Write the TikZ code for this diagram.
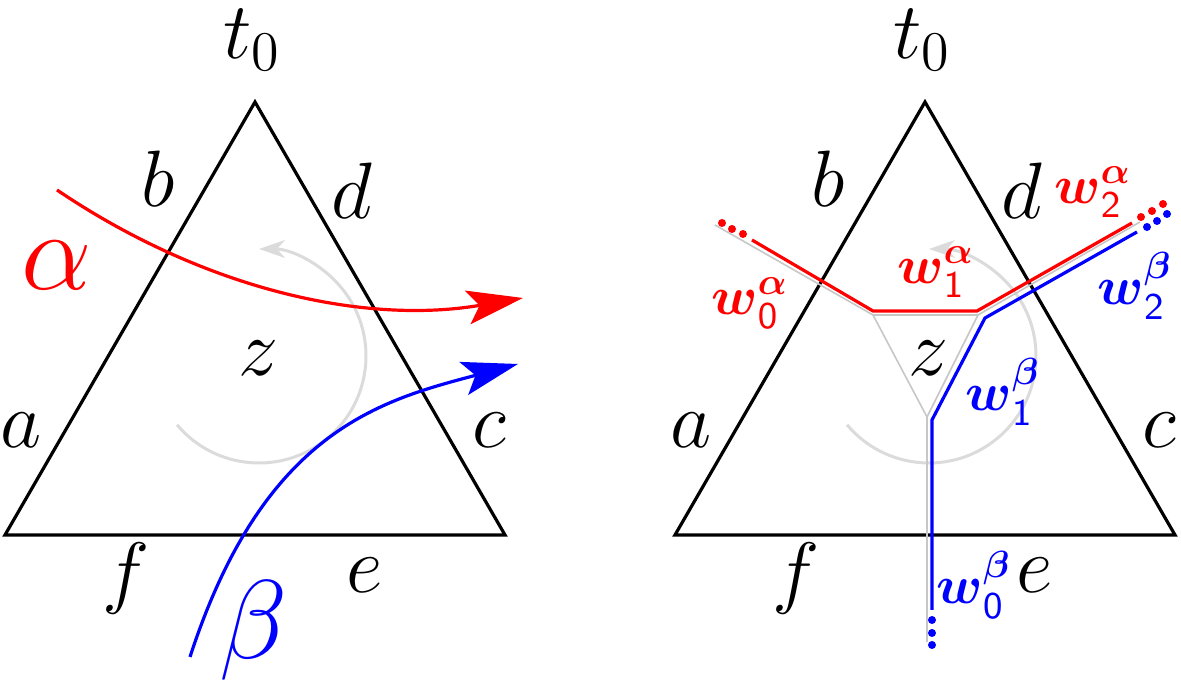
\RequirePackage{fix-cm}
\documentclass[tikz,border=0pt]{standalone}
\usepackage{amsmath,amssymb}
\usepackage{tikz}
\usetikzlibrary{arrows.meta}

\begin{document}
\begin{tikzpicture}[x=25pt, y=25pt,
    side/.style={line width=0.8pt, line join=miter},
    lab/.style={font=\fontsize{20}{24}\selectfont, inner sep=0pt},
    big/.style={font=\fontsize{28}{32}\selectfont, inner sep=0pt},
    wlab/.style={font=\fontsize{13.5}{15}\selectfont, inner sep=0pt},
    turn/.style={line width=0.75pt, black!14, -{Stealth[length=6.5pt, width=4.5pt, inset=2pt]}},
    dual/.style={line width=0.4pt, black!22},
    walk/.style={line width=0.8pt},
    flow/.style={line width=0.8pt, -{Stealth[length=14pt, width=8.5pt, inset=3pt]}}]
  \useasboundingbox (-0.05,-1.47) rectangle (11.76,5.35);
  % the two triangles with their edge labels
  \foreach \s/\n in {0/L, 6.7/R} {
    \draw[turn] (\s+2.54,1.79) ++(220:1.07) arc[start angle=220, end angle=450, radius=1.07];
    \draw[side] (\s,0) coordinate (A\n) -- (\s+5,0) coordinate (C\n)
      -- (\s+2.5,4.33) coordinate (T\n) -- cycle;
    \node[lab] (t\n) at (\s+2.47,4.95) {$t_0$};
    \node[lab] (b\n) at (\s+1.53,3.56) {$b$};
    \node[lab] (d\n) at (\s+3.47,3.44) {$d$};
    \node[lab] (a\n) at (\s+0.16,1.05) {$a$};
    \node[lab] (c\n) at (\s+4.84,1.05) {$c$};
    \node[lab] (f\n) at (\s+1.21,-0.44) {$f$};
    \node[lab] (e\n) at (\s+3.6,-0.4) {$e$};
    \node[lab] (z\n) at (\s+2.53,1.77) {$z$};
  }
  % left: the two crossing curves
  \coordinate (aS) at (0.52,3.45);
  \coordinate (aE) at (5.18,2.37);
  \coordinate (bS) at (1.85,-1.22);
  \coordinate (bE) at (5.13,1.71);
  \draw[flow, red] (aS) .. controls (2.0,2.45) and (3.6,2.1) .. (aE);
  \draw[flow, blue] (bS) .. controls (2.59,1.06) and (3.78,1.35) .. (bE);
  \node[big, red] (alpha) at (0.52,2.7) {$\alpha$};
  \node[big, blue] (beta) at (2.49,-0.96) {$\beta$};
  % right: the dual tree and the two walks along it
  \coordinate (g0) at (7.1,3.1);
  \coordinate (gL) at (8.68,2.2);
  \coordinate (gR) at (9.73,2.2);
  \coordinate (gB) at (9.22,1.18);
  \coordinate (g2) at (11.35,3.13);
  \coordinate (g1) at (9.22,-1.07);
  \draw[dual] (g0) -- (gL) -- (gR) -- (g2);
  \draw[dual] (gL) -- (gB) -- (gR);
  \draw[dual] (gB) -- (g1);
  \coordinate (r0) at (7.47,2.95);
  \coordinate (r1) at (8.68,2.24);
  \coordinate (r2) at (9.72,2.24);
  \coordinate (r3) at (11.27,3.12);
  \draw[walk, red] (r0) -- (r1) -- (r2) -- (r3);
  \coordinate (u0) at (11.32,3.03);
  \coordinate (u1) at (9.8,2.17);
  \coordinate (u2) at (9.27,1.15);
  \coordinate (u3) at (9.27,-0.75);
  \draw[walk, blue] (u0) -- (u1) -- (u2) -- (u3);
  \foreach \p in {(7.17,3.12), (7.27,3.06), (7.38,3.01),
                  (11.36,3.18), (11.47,3.24), (11.58,3.31)}
    \fill[red] \p circle[radius=0.04];
  \foreach \p in {(11.42,3.08), (11.52,3.14), (11.62,3.21),
                  (9.27,-0.85), (9.27,-0.98), (9.27,-1.1)}
    \fill[blue] \p circle[radius=0.04];
  \node[wlab, red] (w0a) at (7.45,2.32) {$\boldsymbol{w}^{\boldsymbol{\alpha}}_{\mathsf{0}}$};
  \node[wlab, red] (w1a) at (9.31,2.63) {$\boldsymbol{w}^{\boldsymbol{\alpha}}_{\mathsf{1}}$};
  \node[wlab, red] (w2a) at (10.88,3.43) {$\boldsymbol{w}^{\boldsymbol{\alpha}}_{\mathsf{2}}$};
  \node[wlab, blue] (w0b) at (9.69,-0.5) {$\boldsymbol{w}^{\boldsymbol{\beta}}_{\mathsf{0}}$};
  \node[wlab, blue] (w1b) at (9.98,1.43) {$\boldsymbol{w}^{\boldsymbol{\beta}}_{\mathsf{1}}$};
  \node[wlab, blue] (w2b) at (11.3,2.49) {$\boldsymbol{w}^{\boldsymbol{\beta}}_{\mathsf{2}}$};
\end{tikzpicture}
\end{document}
